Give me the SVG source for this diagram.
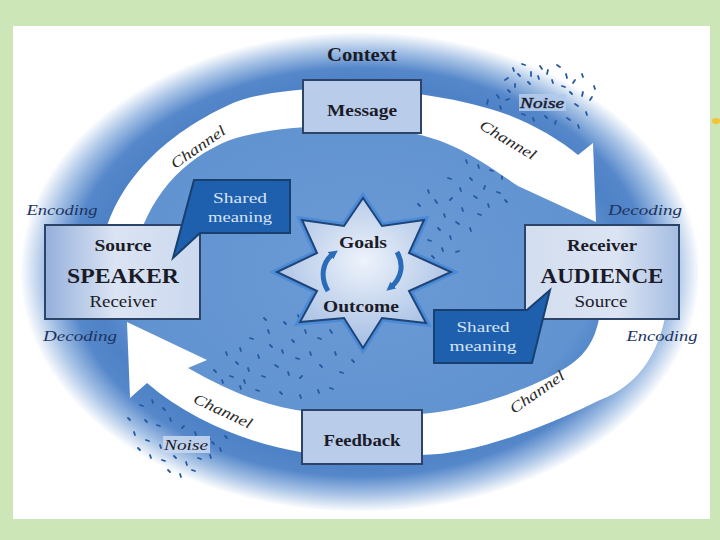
<svg xmlns="http://www.w3.org/2000/svg" width="720" height="540" viewBox="0 0 720 540">
<defs>
<style>
.lbl{font-family:"Liberation Serif","Times New Roman",serif;fill:#1b1b28;text-anchor:middle}
.b{font-weight:bold}
.it{font-style:italic}
.ch{font-family:"Liberation Serif","Times New Roman",serif;font-style:italic;fill:#2a2a2a;text-anchor:middle;font-size:15px}
.ed{font-family:"Liberation Serif","Times New Roman",serif;font-style:italic;fill:#1d3461;text-anchor:middle;font-size:15px}
.box{stroke:#2b4468;stroke-width:2}
.sm{font-family:"Liberation Serif","Times New Roman",serif;fill:#d6e4f5;text-anchor:middle;font-size:15px}
.call{fill:#1e5fae;stroke:#17406f;stroke-width:2}
.dash{stroke:#2459a2;stroke-width:1.8;stroke-linecap:round;fill:none}
.arrow{fill:#ffffff}
</style>
<radialGradient id="gEll" cx="360" cy="272" r="340" gradientUnits="userSpaceOnUse" gradientTransform="translate(360 272) scale(1 0.706) translate(-360 -272)">
<stop offset="0" stop-color="#6b9bd5"/>
<stop offset="0.68" stop-color="#6193d1"/>
<stop offset="0.78" stop-color="#4e82c6"/>
<stop offset="0.85" stop-color="#5587ca"/>
<stop offset="0.93" stop-color="#a9c4e6"/>
<stop offset="1" stop-color="#ffffff"/>
</radialGradient>
<linearGradient id="gSrc" x1="0" y1="0" x2="1" y2="0">
<stop offset="0" stop-color="#95b0dc"/>
<stop offset="0.45" stop-color="#dbe4f3"/>
<stop offset="1" stop-color="#cbd8ee"/>
</linearGradient>
<linearGradient id="gRcv" x1="0" y1="0" x2="1" y2="0">
<stop offset="0" stop-color="#d2ddef"/>
<stop offset="0.6" stop-color="#dbe4f3"/>
<stop offset="1" stop-color="#a5bde2"/>
</linearGradient>
<radialGradient id="gStar" cx="0.5" cy="0.42" r="0.6">
<stop offset="0" stop-color="#eef3fb"/>
<stop offset="1" stop-color="#a2bce2"/>
</radialGradient>
<marker id="ah" viewBox="0 0 6 6" refX="2" refY="3" markerWidth="9" markerHeight="9" markerUnits="userSpaceOnUse" orient="auto">
<path d="M0,0 L6,3 L0,6 Z" fill="#2b6cb8"/>
</marker>
</defs>

<rect x="0" y="0" width="720" height="540" fill="#cce6b8"/>
<rect x="13" y="26" width="697" height="493" fill="#ffffff"/>
<ellipse cx="716" cy="121" rx="4" ry="3" fill="#f2c335"/>

<ellipse cx="360" cy="272" rx="340" ry="240" fill="url(#gEll)"/>

<g id="noise-dashes">
<path class="dash" d="M513 68l1 3 M522 64l3 1 M531 72l0 4 M540 66l2 3 M548 70l-1 4 M557 65l3 2 M566 74l1 4 M575 80l-2 3 M505 80l3 -2 M515 84l0 3 M528 82l2 2 M552 80l1 3 M562 86l3 1 M583 92l-1 4 M590 100l2 -3 M497 95l2 3 M506 100l3 -1 M575 104l3 2 M586 112l1 3 M488 100l-1 4 M500 106l1 3 M522 114l3 1 M533 118l1 3 M545 116l2 2 M556 121l-1 3 M567 118l3 2 M578 125l1 3 M518 74l2 2 M538 76l1 3 M570 92l2 2 M594 86l1 3 M508 90l2 2 M582 74l1 3"/>
<path class="dash" d="M548 148l2 3 M535 145l3 1 M556 160l1 3 M520 152l2 2 M540 162l-1 3 M528 170l3 1 M512 165l1 3 M500 158l2 2 M548 176l2 -2 M515 182l3 2 M502 176l0 3 M490 170l3 1 M478 165l1 3 M470 178l2 2 M485 186l-1 3 M497 192l3 1 M530 188l1 3 M460 188l1 3 M474 196l3 2 M488 204l1 3 M505 200l2 2 M450 200l2 -2 M462 208l1 3 M478 214l3 1 M444 214l1 3 M456 222l3 2 M470 228l1 3 M438 228l2 2 M450 236l1 3 M428 240l3 1 M442 248l1 3 M432 256l2 2 M420 224l1 3 M435 200l2 3 M448 178l3 1 M466 160l1 3 M482 150l2 2 M456 252l3 -1 M418 204l2 2 M428 190l1 3 M490 140l2 2 M510 146l1 3 M460 146l3 1 M475 132l1 3"/>
<path class="dash" d="M330 330l2 3 M318 338l3 1 M305 330l1 3 M292 340l2 2 M310 352l1 3 M296 358l3 1 M282 350l1 3 M270 345l2 2 M258 355l1 3 M275 365l3 2 M288 372l1 3 M300 378l2 -2 M262 376l3 1 M248 368l1 3 M236 362l2 2 M244 380l1 3 M230 376l3 1 M222 380l1 3 M256 390l3 1 M240 386l1 3 M320 365l2 2 M335 352l1 3 M340 372l3 1 M226 352l1 3 M214 370l2 2 M268 330l1 3 M284 322l2 2 M250 338l3 1 M298 315l1 3 M318 390l1 3 M280 392l2 2 M352 360l2 2 M330 388l3 1 M300 395l1 3 M264 318l2 2 M240 348l1 3"/>
<path class="dash" d="M140 405l3 1 M152 400l1 3 M163 408l2 2 M145 420l2 2 M157 425l3 1 M170 418l1 3 M182 428l2 -2 M195 432l1 3 M207 438l3 1 M134 432l1 3 M146 440l3 1 M212 442l2 2 M150 455l1 3 M162 460l3 1 M174 456l2 2 M186 462l1 3 M198 458l3 1 M210 455l1 3 M168 470l2 2 M180 474l1 3 M192 470l3 1 M138 448l2 2 M220 448l1 3 M128 418l2 2 M160 445l1 3 M225 436l2 2"/>
</g>

<g id="connectors">
<path id="arrow-top" class="arrow" d="M 100 262 C 104 200, 150 140, 233 103 C 290 80, 420 85, 500 112 C 530 122, 560 140, 578 155 L 593 143 L 596 222 L 518 186 C 480 160, 450 138, 400 131 C 340 124, 280 124, 230 140 C 180 160, 145 200, 132 262 Z"/>
<path id="arrow-bottom" class="arrow" d="M 127 322 L 207 360 L 188 368 C 230 392, 270 408, 310 412 L 420 414 C 470 410, 530 390, 567 367 C 590 352, 598 335, 602 300 L 668 300 C 662 350, 640 385, 600 400 C 560 420, 480 455, 420 455 L 300 452 C 250 444, 190 420, 147 383 L 130 398 Z"/>
<text class="ch" transform="translate(198 147) rotate(-35)" y="5" textLength="63" lengthAdjust="spacingAndGlyphs">Channel</text>
<text class="ch" transform="translate(508 140) rotate(31)" y="5" textLength="63" lengthAdjust="spacingAndGlyphs">Channel</text>
<text class="ch" transform="translate(223 411) rotate(25)" y="5" textLength="63" lengthAdjust="spacingAndGlyphs">Channel</text>
<text class="ch" transform="translate(537 392) rotate(-35)" y="5" textLength="63" lengthAdjust="spacingAndGlyphs">Channel</text>
</g>

<g id="context">
<text class="lbl b" x="362" y="61" font-size="18" textLength="70" lengthAdjust="spacingAndGlyphs">Context</text>
</g>

<g id="message">
<rect class="box" x="303" y="80" width="118" height="53" fill="#b9cdea"/>
<text class="lbl b" x="362" y="116" font-size="17" textLength="70" lengthAdjust="spacingAndGlyphs">Message</text>
</g>

<g id="feedback">
<rect class="box" x="302" y="410" width="120" height="54" fill="#b9cdea"/>
<text class="lbl b" x="362" y="446" font-size="17" textLength="77" lengthAdjust="spacingAndGlyphs">Feedback</text>
</g>

<g id="speaker">
<rect class="box" x="45" y="225" width="155" height="94" fill="url(#gSrc)"/>
<text class="lbl b" x="123" y="251" font-size="16" textLength="57" lengthAdjust="spacingAndGlyphs">Source</text>
<text class="lbl b" x="123" y="283" font-size="21" textLength="112" lengthAdjust="spacingAndGlyphs">SPEAKER</text>
<text class="lbl" x="123" y="307" font-size="16" textLength="67" lengthAdjust="spacingAndGlyphs" fill="#2a2a38">Receiver</text>
<text class="ed" x="62" y="215" textLength="71" lengthAdjust="spacingAndGlyphs">Encoding</text>
<text class="ed" x="80" y="341" textLength="74" lengthAdjust="spacingAndGlyphs">Decoding</text>
</g>

<g id="audience">
<rect class="box" x="525" y="225" width="154" height="94" fill="url(#gRcv)"/>
<text class="lbl b" x="602" y="251" font-size="16" textLength="70" lengthAdjust="spacingAndGlyphs">Receiver</text>
<text class="lbl b" x="602" y="283" font-size="21" textLength="123" lengthAdjust="spacingAndGlyphs">AUDIENCE</text>
<text class="lbl" x="601" y="307" font-size="16" textLength="53" lengthAdjust="spacingAndGlyphs" fill="#2a2a38">Source</text>
<text class="ed" x="645" y="215" textLength="74" lengthAdjust="spacingAndGlyphs">Decoding</text>
<text class="ed" x="662" y="341" textLength="71" lengthAdjust="spacingAndGlyphs">Encoding</text>
</g>

<g id="shared-meaning-left">
<polygon class="call" points="194,180 290,180 290,233 200,233 173,258"/>
<text class="sm" x="240" y="203" textLength="54" lengthAdjust="spacingAndGlyphs">Shared</text>
<text class="sm" x="240" y="222" textLength="64" lengthAdjust="spacingAndGlyphs">meaning</text>
</g>

<g id="shared-meaning-right">
<polygon class="call" points="434,310 527,310 550,290 532,363 434,363"/>
<text class="sm" x="483" y="332" textLength="53" lengthAdjust="spacingAndGlyphs">Shared</text>
<text class="sm" x="483" y="351" textLength="67" lengthAdjust="spacingAndGlyphs">meaning</text>
</g>

<g id="goals">
<polygon points="363,198 382,226 424,220 409,253 451,272 409,291 426,323 382,318 363,348 344,318 300,322 317,291 277,272 317,253 302,220 344,226" fill="none" stroke="#4a8ad6" stroke-width="7" stroke-linejoin="miter"/>
<polygon points="363,198 382,226 424,220 409,253 451,272 409,291 426,323 382,318 363,348 344,318 300,322 317,291 277,272 317,253 302,220 344,226" fill="url(#gStar)" stroke="#1f4478" stroke-width="2"/>
<path d="M 328 291 C 320 278, 322 262, 333 254" fill="none" stroke="#2b6cb8" stroke-width="5" marker-end="url(#ah)"/>
<path d="M 397 252 C 404 264, 402 278, 391 287" fill="none" stroke="#2b6cb8" stroke-width="5" marker-end="url(#ah)"/>
<text class="lbl b" x="363" y="248" font-size="17" textLength="48" lengthAdjust="spacingAndGlyphs">Goals</text>
<text class="lbl b" x="361" y="312" font-size="17" textLength="76" lengthAdjust="spacingAndGlyphs">Outcome</text>
</g>

<g id="noise-top">
<rect x="519" y="94" width="47" height="17" fill="#b3cbeb" opacity="0.9"/>
<text class="lbl it" x="542" y="108" font-size="15" textLength="44" lengthAdjust="spacingAndGlyphs" fill="#f2f6fb" stroke="#3e4f70" stroke-width="0.6" paint-order="stroke">Noise</text>
</g>

<g id="noise-bottom">
<rect x="163" y="436" width="47" height="17" fill="#c5d6ef" opacity="0.9"/>
<text class="lbl it" x="186" y="450" font-size="15" textLength="44" lengthAdjust="spacingAndGlyphs" fill="#34497a">Noise</text>
</g>
</svg>
